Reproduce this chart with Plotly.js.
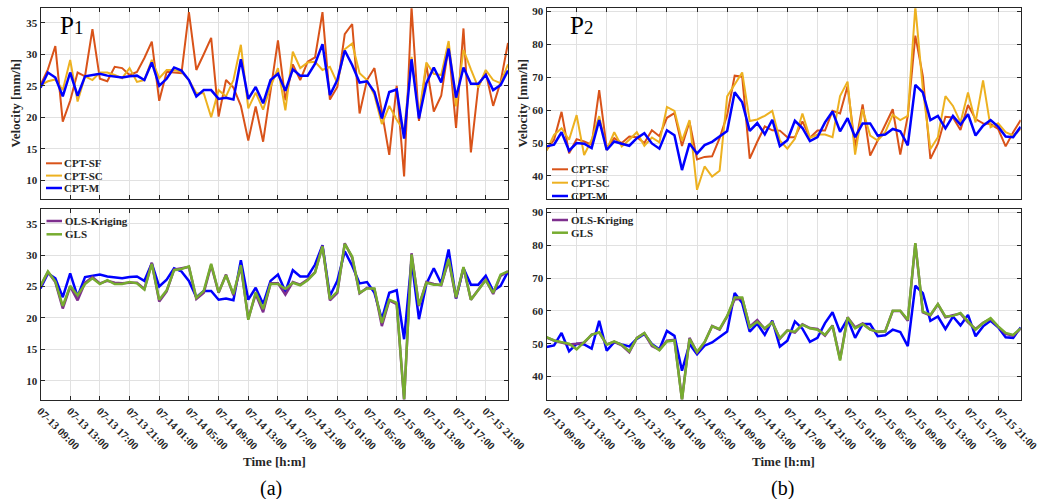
<!DOCTYPE html>
<html>
<head>
<meta charset="utf-8">
<script src="https://cdn.plot.ly/plotly-3.0.1.min.js"></script>
<style>html,body{margin:0;padding:0;background:#fff;}#chart{width:1045px;height:499px;}</style>
</head>
<body>
<div id="chart"></div>
<script>
// ---- data (hourly, 07-13 09:00 .. 07-16 00:00) ----
const startDay = 13, startHour = 9, nPoints = 64;
const times = [];
for (let i = 0; i < nPoints; i++) {
  const h = startHour + i;
  const d = startDay + Math.floor(h / 24);
  times.push('2023-07-' + String(d).padStart(2, '0') + ' ' + String(h % 24).padStart(2, '0') + ':00');
}
const tickLabelFormat = '%m-%d %H:%M';

// P1
const p1_cptSF = [25.1, 27.6, 31.3, 19.3, 22.6, 27.1, 26.5, 34.0, 26.1, 25.7, 28.0, 27.8, 26.7, 27.2, 29.4, 32.0,
  22.6, 27.2, 27.1, 27.0, 36.7, 27.5, 30.0, 32.6, 20.1, 25.9, 24.7, 21.8, 16.3, 21.7, 16.1, 24.5,
  32.2, 22.7, 28.4, 25.9, 28.8, 29.5, 36.7, 22.8, 24.8, 33.2, 34.8, 20.6, 25.9, 27.8, 21.1, 14.0,
  25.0, 10.6, 37.5, 19.4, 28.3, 20.9, 23.4, 31.2, 18.3, 34.1, 14.4, 25.0, 27.1, 21.8, 25.6, 31.8];
const p1_cptSC = [25.1, 25.7, 26.0, 24.3, 29.1, 22.5, 26.5, 25.9, 27.1, 27.1, 26.7, 26.2, 27.8, 25.6, 25.9, 29.1,
  26.2, 27.5, 27.5, 27.2, 25.9, 23.8, 23.8, 20.0, 24.3, 23.3, 25.9, 31.5, 21.4, 23.9, 21.2, 24.8,
  27.8, 21.1, 30.4, 27.8, 28.7, 28.8, 27.5, 28.0, 25.4, 30.8, 31.7, 27.0, 25.9, 23.5, 18.9, 21.8,
  19.6, 17.8, 29.6, 20.3, 28.7, 26.9, 26.7, 32.1, 21.7, 30.7, 27.6, 24.7, 27.5, 25.9, 25.4, 28.4];
const p1_cptM = [24.7, 27.1, 26.3, 23.3, 27.1, 23.4, 26.5, 26.7, 26.9, 26.6, 26.4, 26.3, 26.5, 26.6, 25.9, 28.7,
  25.0, 26.1, 27.9, 27.4, 25.9, 23.3, 24.3, 24.3, 22.9, 23.1, 22.8, 29.2, 22.9, 24.8, 22.2, 25.9,
  26.9, 24.2, 27.6, 26.6, 26.6, 28.5, 31.6, 23.5, 25.9, 30.6, 28.3, 25.5, 25.7, 24.0, 19.8, 24.0,
  24.4, 16.6, 29.2, 19.8, 25.4, 27.9, 25.5, 30.9, 23.1, 27.9, 25.3, 25.3, 26.7, 24.3, 25.1, 27.4];
const p1_ols = [25.0, 27.3, 25.7, 21.5, 25.0, 22.8, 25.6, 26.5, 25.5, 25.9, 25.6, 25.5, 25.6, 25.6, 24.6, 28.8,
  22.6, 24.2, 27.7, 27.9, 28.1, 23.0, 24.0, 28.4, 24.0, 26.9, 23.6, 28.2, 19.9, 23.8, 20.9, 25.5,
  25.5, 23.7, 25.7, 25.3, 26.1, 27.3, 31.5, 22.8, 24.0, 31.9, 29.6, 23.9, 24.8, 24.6, 18.7, 22.8,
  22.2, 6.9, 30.3, 21.9, 25.7, 25.4, 25.2, 29.2, 23.1, 28.0, 22.9, 24.5, 26.1, 23.8, 26.7, 27.4];
const p1_gls = [25.1, 27.4, 25.8, 21.9, 25.1, 23.6, 25.4, 26.3, 25.4, 26.0, 25.4, 25.4, 25.7, 25.5, 24.5, 28.6,
  22.9, 24.4, 27.6, 27.8, 28.2, 23.2, 24.3, 28.6, 24.1, 26.8, 23.8, 28.4, 19.7, 24.1, 21.4, 25.4,
  25.4, 24.6, 25.6, 25.2, 26.0, 27.2, 31.4, 23.0, 24.2, 31.8, 29.8, 24.0, 24.7, 24.7, 19.2, 22.9,
  22.4, 7.0, 30.1, 22.0, 25.6, 25.3, 25.3, 29.4, 23.3, 28.1, 22.9, 24.4, 26.0, 24.0, 26.9, 27.4];

// P2
const p2_cptSF = [47.9, 51.0, 59.5, 46.9, 51.2, 50.5, 49.5, 66.1, 48.5, 51.5, 50.0, 52.0, 51.8, 50.0, 53.9, 52.1,
  57.7, 59.1, 49.1, 56.5, 45.0, 45.8, 46.0, 51.5, 58.5, 70.5, 70.2, 45.3, 50.4, 55.1, 53.9, 53.8,
  51.8, 51.8, 56.6, 51.6, 53.8, 53.8, 59.8, 59.0, 67.4, 48.8, 61.8, 46.2, 50.8, 55.6, 60.3, 46.5,
  58.3, 82.7, 70.4, 45.2, 49.8, 58.0, 57.8, 54.0, 61.6, 57.3, 56.0, 55.8, 54.3, 49.0, 53.3, 57.0];
const p2_cptSC = [47.7, 52.5, 54.5, 51.0, 58.5, 46.4, 51.0, 58.2, 47.9, 53.3, 49.0, 51.0, 53.3, 49.2, 51.7, 50.2,
  61.0, 59.8, 50.7, 57.0, 35.8, 42.9, 39.8, 41.6, 64.2, 67.8, 71.5, 56.7, 57.2, 58.3, 59.8, 50.8,
  48.3, 51.3, 59.0, 51.6, 52.6, 52.6, 51.8, 64.3, 68.7, 46.5, 60.3, 52.3, 50.8, 53.3, 58.6, 57.0,
  58.3, 91.5, 66.4, 48.2, 51.8, 64.3, 61.3, 56.3, 65.4, 56.3, 69.1, 54.8, 56.0, 53.3, 52.3, 54.3];
const p2_cptM = [49.0, 49.5, 53.3, 47.7, 50.0, 49.8, 48.5, 57.0, 47.9, 50.5, 49.8, 49.2, 51.5, 53.0, 49.9, 48.3,
  53.9, 52.4, 41.8, 49.9, 46.8, 49.4, 50.4, 52.1, 53.7, 65.5, 62.4, 53.7, 56.1, 52.7, 57.1, 49.1,
  50.9, 56.8, 54.6, 50.6, 51.8, 56.3, 59.6, 53.6, 57.6, 51.8, 56.0, 56.0, 52.3, 52.6, 54.3, 53.6,
  49.3, 67.7, 65.4, 57.0, 58.3, 54.5, 58.3, 55.6, 58.8, 52.3, 55.3, 57.0, 55.0, 52.0, 51.8, 55.0];
const p2_ols = [51.9, 51.0, 50.4, 49.8, 50.0, 50.3, 52.8, 53.4, 49.8, 50.6, 49.5, 47.4, 51.8, 53.2, 49.3, 48.2,
  50.9, 51.2, 33.0, 51.8, 47.3, 50.4, 55.4, 54.3, 58.3, 63.5, 63.8, 55.2, 57.2, 54.5, 56.6, 51.5,
  54.1, 53.4, 55.9, 54.8, 54.5, 52.5, 55.6, 45.3, 58.1, 55.0, 56.2, 54.4, 53.6, 53.8, 60.0, 60.0,
  57.0, 80.5, 59.6, 58.6, 62.0, 58.1, 58.7, 59.2, 56.5, 54.5, 56.4, 57.6, 55.2, 53.0, 52.5, 54.6];
const p2_gls = [52.0, 51.0, 50.5, 50.0, 48.3, 50.5, 52.7, 53.5, 49.7, 50.7, 49.7, 47.7, 51.7, 53.3, 49.7, 48.0,
  50.7, 51.0, 32.8, 51.5, 47.5, 50.5, 55.3, 54.5, 58.5, 64.1, 64.1, 55.0, 56.7, 54.7, 56.5, 51.7,
  54.0, 53.7, 55.8, 54.7, 54.3, 52.7, 55.5, 44.9, 58.0, 54.7, 56.0, 54.3, 53.7, 53.7, 60.1, 60.1,
  57.3, 80.7, 59.8, 58.8, 62.1, 58.3, 58.5, 59.4, 56.7, 54.3, 56.3, 57.8, 55.3, 53.3, 52.7, 54.7];

const seriesNames = { sf: 'CPT-SF', sc: 'CPT-SC', m: 'CPT-M', ols: 'OLS-Kriging', gls: 'GLS' };
const colors = { sf: '#D95319', sc: '#EDB120', m: '#0000FF', ols: '#7E2F8E', gls: '#77AC30' };
const widths = { sf: 2, sc: 2, m: 2.5, ols: 2.5, gls: 2.5 };

// ---- geometry helpers (pixels -> paper) ----
const W = 1045, H = 499;
const px = x => x / W;
const py = y => 1 - y / H;

const domL = [px(40.5), px(508)], domR = [px(546.5), px(1020.7)];
const domT = [py(199), py(8.3)], domB = [py(399.5), py(209.3)];

function tr(y, key, xa, ya) {
  return { x: times, y: y, type: 'scatter', mode: 'lines', name: seriesNames[key], xaxis: xa, yaxis: ya,
    line: { color: colors[key], width: widths[key] }, showlegend: false, hoverinfo: 'skip' };
}
const data = [
  tr(p1_cptSF, 'sf', 'x', 'y'), tr(p1_cptSC, 'sc', 'x', 'y'), tr(p1_cptM, 'm', 'x', 'y'),
  tr(p1_cptM, 'm', 'x2', 'y2'), tr(p1_ols, 'ols', 'x2', 'y2'), tr(p1_gls, 'gls', 'x2', 'y2'),
  tr(p2_cptSF, 'sf', 'x3', 'y3'), tr(p2_cptSC, 'sc', 'x3', 'y3'), tr(p2_cptM, 'm', 'x3', 'y3'),
  tr(p2_cptM, 'm', 'x4', 'y4'), tr(p2_ols, 'ols', 'x4', 'y4'), tr(p2_gls, 'gls', 'x4', 'y4')
];

const axColor = '#262626', gridColor = '#e1e1e1';
const tickFont = { family: 'Liberation Serif', size: 11, weight: 'bold', color: axColor };
function xa(domain, anchor, labels) {
  return { domain, anchor, type: 'date', range: ['2023-07-13 09:00', '2023-07-16 00:00'],
    tick0: '2023-07-13 09:00', dtick: 4 * 3600 * 1000, tickformat: tickLabelFormat, tickangle: 45,
    showticklabels: labels, ticks: 'inside', ticklen: 4, tickcolor: axColor, showline: true,
    linecolor: axColor, linewidth: 1, mirror: 'ticks', showgrid: true, gridcolor: gridColor,
    zeroline: false, tickfont: tickFont, automargin: false, fixedrange: true };
}
function ya(domain, anchor, range, dtick) {
  return { domain, anchor, range, dtick, tick0: 0, ticks: 'inside', ticklen: 4, tickcolor: axColor,
    showline: true, linecolor: axColor, linewidth: 1, mirror: 'ticks', showgrid: true,
    gridcolor: gridColor, zeroline: false, tickfont: tickFont, automargin: false, fixedrange: true };
}

const annFontB = (s) => ({ family: 'Liberation Serif', size: s, weight: 'bold', color: '#262626' });
const annotations = [];
const shapes = [];
function ann(text, x, y, opts) {
  annotations.push(Object.assign({ text, x: px(x), y: py(y), xref: 'paper', yref: 'paper',
    showarrow: false, xanchor: 'center', yanchor: 'middle' }, opts));
}
// axis titles
ann('Velocity [mm/h]', 15, 103.5, { textangle: -90, font: annFontB(13) });
ann('Velocity [mm/h]', 522, 103.5, { textangle: -90, font: annFontB(13) });
ann('Time [h:m]', 274, 461, { font: annFontB(13) });
ann('Time [h:m]', 783, 461, { font: annFontB(13) });
ann('(a)', 271, 488, { font: { family: 'Liberation Serif', size: 20, color: '#000' } });
ann('(b)', 782, 488, { font: { family: 'Liberation Serif', size: 20, color: '#000' } });
// panel labels
ann('P<span style="font-size:19px">1</span>', 58, 25, { xanchor: 'left', font: { family: 'Liberation Serif', size: 25, color: '#000' } });
ann('P<span style="font-size:19px">2</span>', 568, 25, { xanchor: 'left', font: { family: 'Liberation Serif', size: 25, color: '#000' } });

// legends (line sample + label)
function legend(items, x0, x1, tx, ys) {
  items.forEach((k, i) => {
    shapes.push({ type: 'line', xref: 'paper', yref: 'paper', x0: px(x0), x1: px(x1), y0: py(ys[i]), y1: py(ys[i]),
      line: { color: colors[k], width: widths[k] } });
    ann(seriesNames[k], tx, ys[i], { xanchor: 'left', font: annFontB(11) });
  });
}
legend(['sf', 'sc', 'm'], 46, 62, 62, [163.3, 175.6, 188]);
legend(['ols', 'gls'], 46.5, 62, 63, [221, 234.3]);
legend(['sf', 'sc', 'm'], 552, 568, 569, [169.3, 182.7, 196]);
legend(['ols', 'gls'], 552, 568, 569, [220, 232.7]);

const layout = {
  width: W, height: H, margin: { l: 0, r: 0, t: 0, b: 0 }, paper_bgcolor: '#fff', plot_bgcolor: '#fff',
  font: { family: 'Liberation Serif', color: '#262626' }, showlegend: false,
  xaxis: xa(domL, 'y', false), yaxis: ya(domT, 'x', [7, 37.3], 5),
  xaxis2: xa(domL, 'y2', true), yaxis2: ya(domB, 'x2', [7, 37.3], 5),
  xaxis3: xa(domR, 'y3', false), yaxis3: ya(domT, 'x3', [33, 91], 10),
  xaxis4: xa(domR, 'y4', true), yaxis4: ya(domB, 'x4', [33, 91], 10),
  annotations, shapes
};
Plotly.newPlot('chart', data, layout, { staticPlot: true, displayModeBar: false });
</script>
</body>
</html>
